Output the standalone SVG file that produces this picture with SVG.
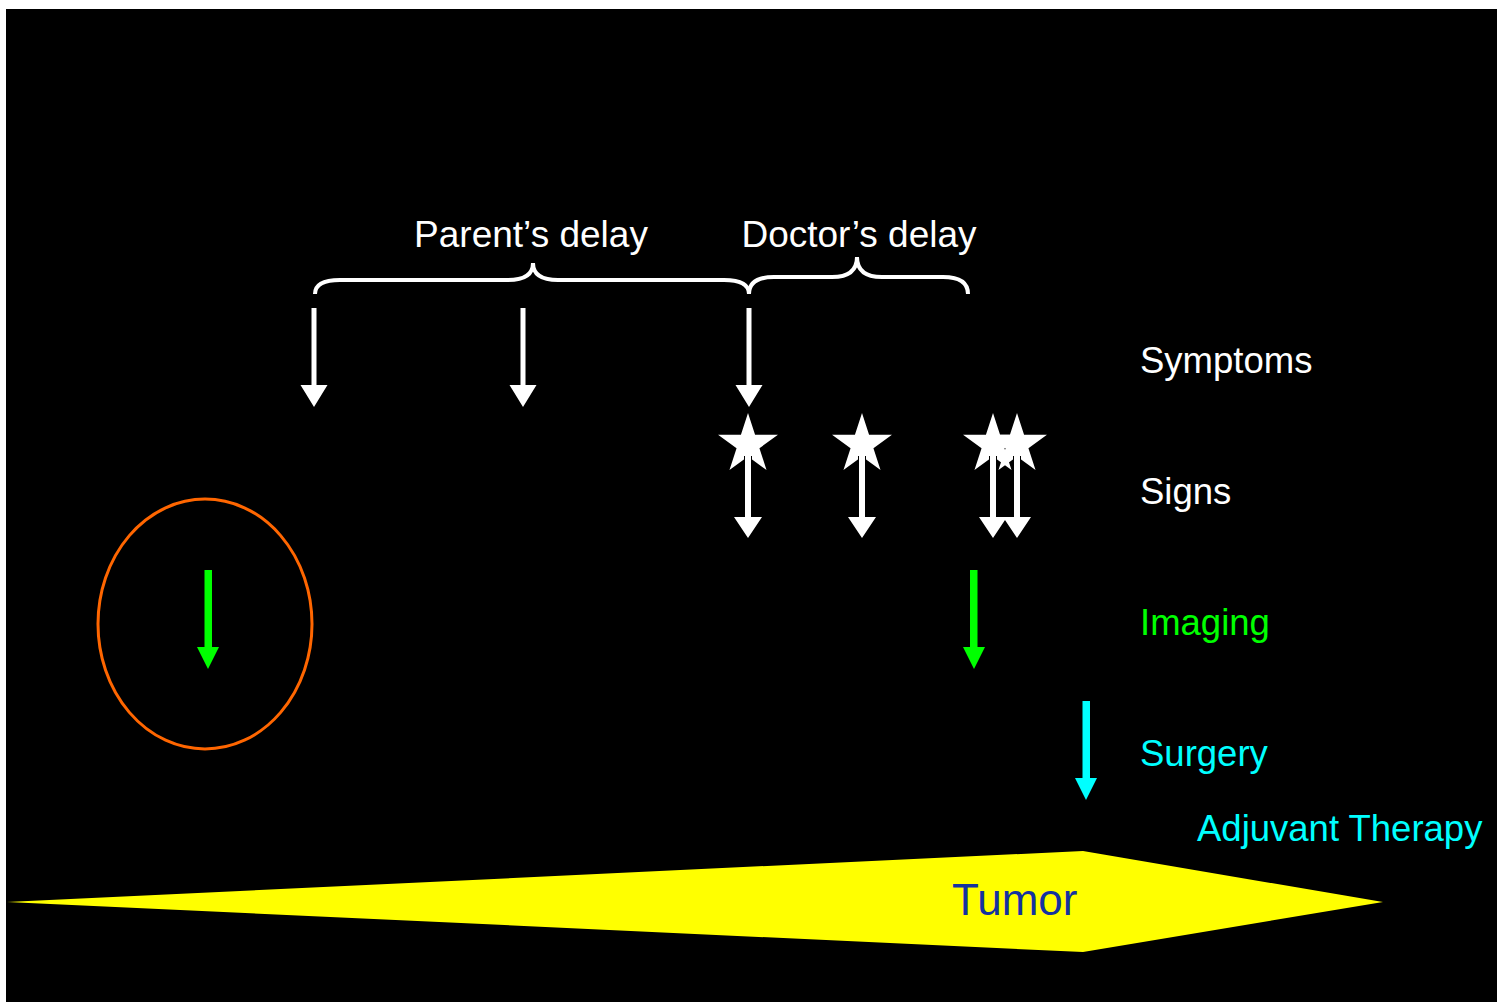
<svg xmlns="http://www.w3.org/2000/svg" width="1509" height="1002" viewBox="0 0 1509 1002">
<style>
.lbl{font-family:"Liberation Sans",Arial,sans-serif;font-size:36.5px}
.hd{font-size:37px}
.w{fill:#ffffff}
.g{fill:#00ff00}
.c{fill:#00ffff}
.brace{fill:none;stroke:#ffffff;stroke-width:4;stroke-linecap:butt}
.edge{stroke:#000000;stroke-width:1;fill:none}
</style>
<defs>
<polygon id="star" points="0,-31.5 7.07,-9.73 29.96,-9.73 11.44,3.72 18.52,25.48 0,12.03 -18.52,25.48 -11.44,3.72 -29.96,-9.73 -7.07,-9.73"/>
<g id="signarrow">
<path class="w" d="M-3,452 h6 v65 h11 l-14,21 l-14,-21 h11 z"/>
<path class="edge" d="M-3.5,456 V517 M3.5,456 V517"/>
</g>
</defs>
<rect x="0" y="0" width="1509" height="1002" fill="#ffffff"/>
<rect x="6" y="9" width="1491" height="993" fill="#000000"/>

<g id="tumor">
<polygon points="7,902 1083,851 1383,902 1083,952" fill="#ffff00"/>
<text x="952" y="915" class="lbl" style="font-size:44px" fill="#1432a0">Tumor</text>
</g>

<g id="labels">
<text id="parents-delay" x="531" y="247" class="lbl hd w" text-anchor="middle">Parent’s delay</text>
<text id="doctors-delay" x="859" y="247" class="lbl hd w" text-anchor="middle">Doctor’s delay</text>
<text id="symptoms" x="1140" y="373" class="lbl w">Symptoms</text>
<text id="signs" x="1140" y="504" class="lbl w">Signs</text>
<text id="imaging" x="1140" y="635" class="lbl g">Imaging</text>
<text id="surgery" x="1140" y="766" class="lbl c">Surgery</text>
<text id="adjuvant" x="1197" y="841" class="lbl c">Adjuvant Therapy</text>
</g>

<g id="braces">
<path class="brace" d="M315,294 Q315,280 340,280 L508,280 Q533,280 533,263 Q533,280 558,280 L724,280 Q749,280 749,294"/>
<path class="brace" d="M749,294 Q749,277 774,277 L832,277 Q857,277 857,257 Q857,277 882,277 L943,277 Q968,277 968,294"/>
</g>

<g id="ellipse">
<ellipse cx="205" cy="624" rx="107" ry="125" fill="none" stroke="#ff6600" stroke-width="3"/>
</g>

<g id="stars" class="w">
<use href="#star" x="748" y="444.5"/>
<use href="#star" x="862" y="444.5"/>
<use href="#star" x="993" y="444.5"/>
<use href="#star" x="1017" y="444.5"/>
</g>

<g id="connectors">
<!-- symptom arrows -->
<path class="w" d="M311.5,308 h5 v77 h11 l-13.5,22 l-13.5,-22 h11 z"/>
<path class="w" d="M520.5,308 h5 v77 h11 l-13.5,22 l-13.5,-22 h11 z"/>
<path class="w" d="M746.5,308 h5 v77 h11 l-13.5,22 l-13.5,-22 h11 z"/>
<!-- sign arrows -->
<use href="#signarrow" x="748"/>
<use href="#signarrow" x="862"/>
<use href="#signarrow" x="993"/>
<use href="#signarrow" x="1017"/>
<!-- imaging arrows -->
<path class="g" d="M204.5,570 h7.5 v77 h7 l-11,22 l-11,-22 h7.5 z"/>
<path class="g" d="M970,570 h7.5 v77 h7.5 l-11,22 l-11,-22 h7 z"/>
<!-- surgery arrow -->
<path class="c" d="M1082.5,701 h7.5 v77 h7 l-11,22 l-11,-22 h7.5 z"/>
</g>
</svg>
